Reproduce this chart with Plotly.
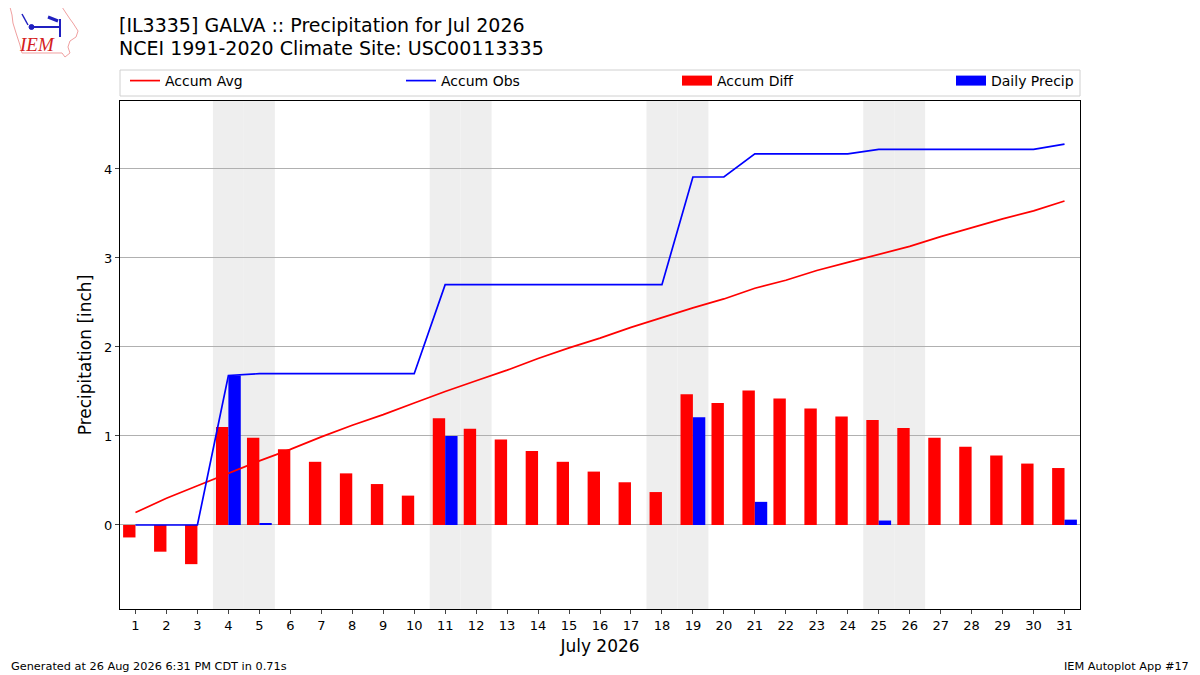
import pandas as pd
import numpy as np
import plotly.graph_objects as go

# July 2026, Galva IL (IL3335)
days = list(range(1, 32))
daily_precip = [0, 0, 0, 1.68, 0.02, 0, 0, 0, 0, 0,
                1.00, 0, 0, 0, 0, 0, 0, 0, 1.21, 0,
                0.26, 0, 0, 0, 0.05, 0, 0, 0, 0, 0, 0.06]
accum_avg = [0.14, 0.30, 0.44, 0.58, 0.72, 0.85, 0.99, 1.12, 1.24, 1.37,
             1.50, 1.62, 1.74, 1.87, 1.99, 2.10, 2.22, 2.33, 2.44, 2.54,
             2.66, 2.75, 2.86, 2.95, 3.04, 3.13, 3.24, 3.34, 3.44, 3.53, 3.64]
yticks = [0, 1, 2, 3, 4]

accum_obs = np.cumsum(daily_precip)
accum_diff = accum_obs - np.array(accum_avg)

# weekends get a grey band
dates = pd.date_range("2026-07-01", "2026-07-31")
weekend_days = [d.day for d in dates if d.dayofweek >= 5]

FONT = "DejaVu Sans"


# screen pixel -> paper coords (plot area spans x 120..1080, y 100..608 on screen)
def px(sx):
    return (sx - 120) / 960.0


def py(sy):
    return (608 - sy) / 508.0


fig = go.Figure()
fig.add_trace(go.Bar(x=days, y=accum_diff, width=0.4, offset=-0.4, marker=dict(color="red", line_width=0),
                     name="Accum Diff", showlegend=False))
fig.add_trace(go.Bar(x=days, y=daily_precip, width=0.4, offset=0, marker=dict(color="blue", line_width=0),
                     name="Daily Precip", showlegend=False))
fig.add_trace(go.Scatter(x=days, y=accum_avg, mode="lines", line=dict(color="red", width=1.7),
                         name="Accum Avg", legend="legend"))
fig.add_trace(go.Scatter(x=days, y=accum_obs, mode="lines", line=dict(color="blue", width=1.7),
                         name="Accum Obs", legend="legend2"))
# legend-only swatches for the bars (wide rectangles like the original)
fig.add_trace(go.Scatter(x=[None], y=[None], mode="lines", line=dict(color="red", width=10),
                         name="Accum Diff", legend="legend3"))
fig.add_trace(go.Scatter(x=[None], y=[None], mode="lines", line=dict(color="blue", width=10),
                         name="Daily Precip", legend="legend4"))

for d in weekend_days:
    fig.add_vrect(x0=d - 0.5, x1=d + 0.5, fillcolor="#eeeeee", line_width=0, layer="below")

# legend frame
fig.add_shape(type="rect", xref="paper", yref="paper", x0=px(120), x1=px(1080), y0=py(95), y1=py(69),
              line=dict(color="#d0d0d0", width=1), fillcolor="rgba(0,0,0,0)")

leg = dict(orientation="h", yanchor="middle", y=py(80), xanchor="left", bgcolor="rgba(0,0,0,0)",
           font=dict(family=FONT, size=14, color="black"), borderwidth=0)

fig.update_layout(
    width=1200, height=675,
    margin=dict(l=112, r=128, t=93, b=74),
    plot_bgcolor="white", paper_bgcolor="white",
    barmode="overlay",
    showlegend=True,
    legend=dict(leg, x=px(125)),
    legend2=dict(leg, x=px(401)),
    legend3=dict(leg, x=px(677)),
    legend4=dict(leg, x=px(951)),
    font=dict(family=FONT, size=13, color="black"),
    xaxis=dict(range=[0.5, 31.5], tickmode="array", tickvals=days, ticks="outside", ticklen=4,
               showgrid=False, showline=True, linecolor="black", mirror=True, zeroline=False,
               title=dict(text="July 2026", font=dict(size=17), standoff=8)),
    yaxis=dict(range=[-0.944, 4.764], tickmode="array", tickvals=yticks, ticks="outside", ticklen=4,
               showgrid=True, gridcolor="#b0b0b0", showline=True, linecolor="black", mirror=True,
               zeroline=False, title=dict(text="Precipitation [inch]", font=dict(size=17), standoff=8)),
)

title_lines = ["[IL3335] GALVA :: Precipitation for Jul 2026", "NCEI 1991-2020 Climate Site: USC00113335"]
for line, sy in zip(title_lines, [24, 47]):
    fig.add_annotation(text=line, xref="paper", yref="paper", x=px(117), y=py(sy), xanchor="left",
                       yanchor="middle", showarrow=False, font=dict(family=FONT, size=19, color="black"))

# IEM logo (rough sketch)
iowa = [(10, 6), (62, 6), (66, 12), (70, 18), (73, 22), (78, 30), (76, 36), (70, 40), (68, 46),
        (70, 52), (65, 56), (62, 52), (22, 52), (20, 44), (16, 32), (13, 22), (12, 14)]
path = "M " + " L ".join(f"{px(a):.4f} {py(b):.4f}" for a, b in iowa) + " Z"
fig.add_shape(type="path", xref="paper", yref="paper", path=path,
              line=dict(color="#f0a0a0", width=1), fillcolor="rgba(0,0,0,0)")
fig.add_shape(type="line", xref="paper", yref="paper", x0=px(30), x1=px(60), y0=py(26), y1=py(26),
              line=dict(color="#2020c0", width=2))
fig.add_shape(type="line", xref="paper", yref="paper", x0=px(60), x1=px(60), y0=py(18), y1=py(36),
              line=dict(color="#2020c0", width=2))
fig.add_shape(type="line", xref="paper", yref="paper", x0=px(48), x1=px(58), y0=py(16), y1=py(20),
              line=dict(color="#2020c0", width=3))
fig.add_shape(type="line", xref="paper", yref="paper", x0=px(22), x1=px(28), y0=py(13), y1=py(24),
              line=dict(color="#2020c0", width=1.5))
fig.add_shape(type="circle", xref="paper", yref="paper", x0=px(29), x1=px(34), y0=py(28.5), y1=py(23.5),
              line=dict(color="#2020c0", width=1), fillcolor="#2020c0")
fig.add_annotation(text="<i>IEM</i>", xref="paper", yref="paper", x=px(37), y=py(44),
                   xanchor="center", yanchor="middle", showarrow=False,
                   font=dict(family="Liberation Serif", size=19, color="#d42020"))

fig.add_annotation(text="Generated at 26 Aug 2026 6:31 PM CDT in 0.71s", xref="paper", yref="paper",
                   x=px(8.6), y=py(665), xanchor="left", yanchor="middle", showarrow=False,
                   font=dict(family=FONT, size=11.3, color="black"))
fig.add_annotation(text="IEM Autoplot App #17", xref="paper", yref="paper",
                   x=px(1191.4), y=py(665), xanchor="right", yanchor="middle", showarrow=False,
                   font=dict(family=FONT, size=11.3, color="black"))

fig.write_html("out.html")
